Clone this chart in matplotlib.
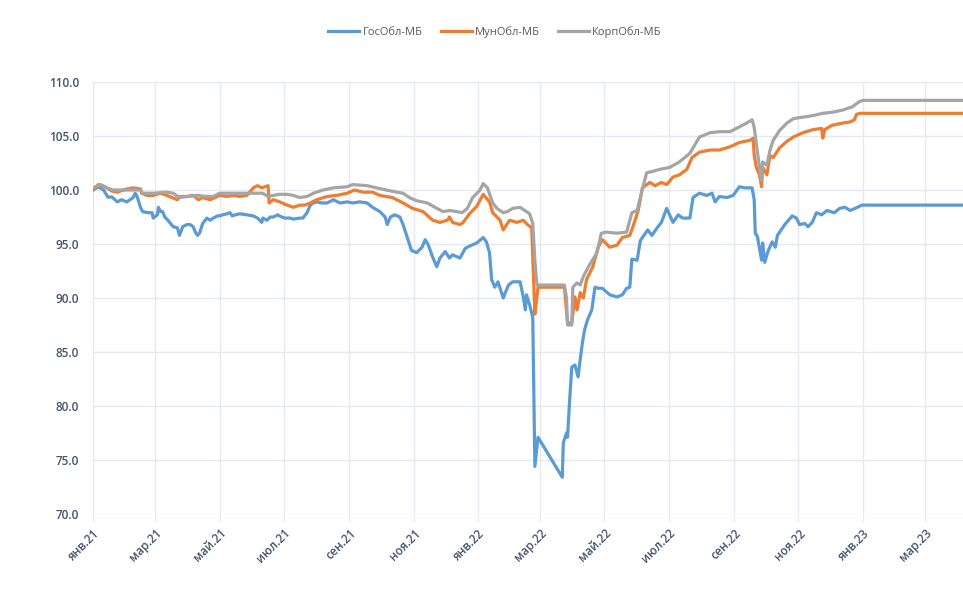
import pandas as pd
import matplotlib
matplotlib.use('Agg')
import matplotlib.pyplot as plt

## index series, values (day = days since 2021-01-01)
start = pd.Timestamp('2021-01-01')

gos_days = [0, 5, 10, 14, 18, 23, 27, 32, 35, 38, 40, 42, 45, 47, 52, 56, 57, 61, 62, 64,
            66, 68, 71, 76, 80, 82, 84, 85, 89, 92, 95, 97, 99, 101, 104, 108, 111, 114, 118, 120,
            123, 127, 130, 132, 135, 139, 146, 152, 156, 160, 161, 165, 168, 171, 175, 179, 182, 187, 190, 196,
            199, 203, 206, 209, 212, 217, 222, 228, 234, 241, 246, 253, 260, 265, 272, 277, 279, 282, 286, 291,
            294, 298, 302, 307, 312, 315, 318, 322, 326, 329, 334, 338, 341, 348, 353, 357, 364, 370, 373, 376,
            378, 381, 384, 389, 391, 394, 398, 405, 408, 410, 411, 414, 417, 419, 422, 445, 446, 449, 450, 452,
            454, 457, 460, 462, 464, 466, 469, 473, 476, 479, 483, 490, 497, 502, 506, 509, 511, 516, 519, 521,
            526, 530, 535, 539, 544, 550, 555, 559, 566, 569, 575, 582, 587, 590, 594, 601, 607, 613, 618, 625,
            627, 628, 630, 634, 635, 637, 640, 644, 647, 649, 656, 663, 667, 670, 675, 678, 682, 686, 691, 696,
            703, 708, 713, 718, 725, 729, 825]
gos_vals = [100.0, 100.3, 100.0, 99.35, 99.35, 98.9, 99.1, 98.9, 99.1, 99.3, 99.7, 99.35, 98.4, 98.0, 97.9, 97.9, 97.4, 97.7, 98.4, 98.0,
            98.0, 97.5, 97.2, 96.6, 96.5, 95.8, 96.3, 96.6, 96.8, 96.8, 96.6, 96.1, 95.8, 96.0, 96.9, 97.4, 97.2, 97.4, 97.6, 97.6,
            97.7, 97.8, 97.9, 97.6, 97.7, 97.8, 97.7, 97.6, 97.4, 97.0, 97.4, 97.2, 97.5, 97.5, 97.7, 97.5, 97.4, 97.4, 97.3, 97.4,
            97.4, 97.9, 98.6, 98.8, 98.9, 98.8, 98.8, 99.1, 98.8, 98.9, 98.8, 98.9, 98.8, 98.4, 98.0, 97.5, 96.8, 97.5, 97.7, 97.5,
            96.8, 95.6, 94.4, 94.2, 94.7, 95.4, 94.9, 93.8, 92.9, 93.7, 94.3, 93.7, 94.0, 93.7, 94.6, 94.8, 95.1, 95.6, 95.2, 94.2,
            91.7, 91.0, 91.5, 90.0, 90.5, 91.2, 91.5, 91.5, 90.1, 88.9, 90.3, 89.4, 88.2, 74.4, 77.1, 73.4, 76.6, 77.5, 77.1, 80.6,
            83.6, 83.8, 82.7, 84.3, 85.8, 87.0, 88.0, 88.9, 91.0, 90.9, 90.9, 90.3, 90.1, 90.3, 90.9, 91.0, 93.6, 93.5, 95.3, 95.6,
            96.3, 95.8, 96.5, 97.0, 98.3, 97.0, 97.7, 97.4, 97.4, 99.3, 99.7, 99.5, 99.7, 98.9, 99.4, 99.3, 99.5, 100.3, 100.2, 100.2,
            99.1, 96.0, 95.7, 93.5, 95.1, 93.3, 94.3, 95.2, 94.7, 95.8, 96.8, 97.6, 97.4, 96.8, 96.9, 96.6, 97.0, 97.9, 97.7, 98.1,
            97.9, 98.3, 98.4, 98.1, 98.4, 98.6, 98.6]

mun_days = [0, 5, 9, 13, 18, 23, 32, 38, 45, 46, 51, 57, 64, 70, 75, 80, 82, 89, 95, 100,
            104, 111, 118, 120, 127, 133, 139, 146, 152, 156, 160, 163, 166, 167, 171, 177, 184, 190, 196, 201,
            206, 212, 222, 231, 241, 248, 256, 265, 272, 284, 294, 303, 313, 322, 329, 336, 338, 341, 348, 351,
            357, 364, 370, 376, 379, 386, 389, 395, 402, 408, 412, 416, 419, 421, 422, 447, 450, 454, 457, 459,
            462, 465, 468, 474, 479, 483, 490, 497, 502, 509, 512, 517, 521, 528, 533, 539, 544, 550, 556, 563,
            568, 575, 585, 594, 604, 613, 623, 626, 627, 629, 632, 634, 635, 639, 642, 645, 651, 658, 664, 673,
            683, 691, 692, 694, 701, 711, 718, 722, 724, 727, 825]
mun_vals = [100.0, 100.5, 100.4, 100.2, 99.9, 99.8, 100.1, 100.2, 100.1, 99.7, 99.5, 99.5, 99.7, 99.5, 99.3, 99.1, 99.4, 99.4, 99.5, 99.1,
            99.3, 99.1, 99.4, 99.5, 99.4, 99.5, 99.4, 99.5, 100.2, 100.4, 100.2, 100.3, 100.4, 98.8, 99.1, 98.9, 98.6, 98.4, 98.6, 98.6,
            98.8, 99.1, 99.4, 99.5, 99.7, 100.0, 99.8, 99.8, 99.5, 99.3, 98.8, 98.3, 98.0, 97.2, 97.0, 97.2, 97.5, 97.0, 96.8, 97.0,
            97.8, 98.5, 99.6, 98.9, 97.9, 97.2, 96.3, 97.2, 97.0, 97.2, 96.8, 96.5, 88.5, 90.1, 91.0, 91.0, 87.7, 87.7, 90.1, 88.9,
            90.5, 90.0, 91.7, 92.9, 94.7, 95.4, 94.7, 94.9, 95.6, 95.8, 96.6, 98.1, 100.2, 100.7, 100.4, 100.7, 100.5, 101.2, 101.4, 101.9,
            103.0, 103.5, 103.7, 103.7, 104.0, 104.4, 104.6, 104.8, 103.2, 102.1, 101.4, 100.3, 102.1, 101.4, 103.2, 103.0, 103.9, 104.5, 104.9, 105.3,
            105.6, 105.7, 104.8, 105.6, 106.0, 106.2, 106.3, 106.5, 107.0, 107.1, 107.1]

korp_days = [0, 7, 13, 19, 32, 45, 47, 57, 70, 76, 82, 89, 99, 108, 114, 120, 127, 139, 152, 161,
             166, 171, 177, 184, 190, 196, 203, 209, 218, 228, 241, 246, 260, 269, 278, 288, 294, 300, 307, 317,
             326, 332, 338, 345, 350, 355, 360, 367, 370, 374, 379, 383, 389, 393, 398, 405, 411, 414, 417, 419,
             421, 447, 449, 450, 454, 455, 459, 462, 465, 471, 478, 482, 487, 497, 506, 511, 516, 520, 525, 530,
             537, 547, 556, 566, 575, 585, 594, 604, 610, 620, 625, 627, 629, 632, 634, 635, 639, 642, 645, 651,
             658, 664, 670, 677, 683, 692, 701, 711, 720, 727, 730, 825]
korp_vals = [100.2, 100.5, 100.2, 100.0, 100.0, 100.0, 99.7, 99.7, 99.8, 99.7, 99.3, 99.4, 99.5, 99.4, 99.4, 99.7, 99.7, 99.7, 99.7, 99.7,
             99.4, 99.5, 99.6, 99.6, 99.5, 99.3, 99.4, 99.7, 100.0, 100.2, 100.3, 100.5, 100.4, 100.2, 100.0, 99.8, 99.7, 99.3, 99.0, 98.8,
             98.3, 98.0, 98.1, 98.0, 97.9, 98.3, 99.3, 100.0, 100.6, 100.2, 98.8, 98.3, 97.9, 98.0, 98.3, 98.4, 98.0, 97.8, 96.9, 93.5,
             91.2, 91.2, 90.0, 87.5, 87.5, 91.0, 91.4, 91.2, 92.0, 93.1, 94.2, 96.0, 96.1, 96.0, 96.1, 97.9, 98.1, 99.7, 101.6, 101.7,
             101.9, 102.1, 102.6, 103.4, 104.9, 105.3, 105.4, 105.4, 105.7, 106.2, 106.5, 105.8, 104.3, 102.1, 100.9, 102.6, 102.3, 103.7, 104.6, 105.5,
             106.2, 106.6, 106.7, 106.8, 106.9, 107.1, 107.2, 107.4, 107.7, 108.2, 108.3, 108.3]

series_names = ['ГосОбл-МБ', 'МунОбл-МБ', 'КорпОбл-МБ']
series_colors = ['#5b9bd5', '#ed7d31', '#a5a5a5']
tick_dates = pd.date_range('2021-01-01', '2023-03-01', freq='2MS')
tick_labels = ['янв.21', 'мар.21', 'май.21', 'июл.21', 'сен.21', 'ноя.21', 'янв.22',
               'мар.22', 'май.22', 'июл.22', 'сен.22', 'ноя.22', 'янв.23', 'мар.23']

plt.rcParams['font.family'] = ['Open Sans', 'DejaVu Sans']

fig = plt.figure(figsize=(9.63, 5.96), dpi=100)
ax = fig.add_axes([0.0966, 0.1376, 0.9034, 0.7248])

data = [(gos_days, gos_vals), (mun_days, mun_vals), (korp_days, korp_vals)]
for (days, vals), name, color in zip(data, series_names, series_colors):
    dates = start + pd.to_timedelta(days, unit='D')
    ax.plot(dates, vals, color=color, linewidth=2.3, label=name, solid_joinstyle='round')

grid_color = '#e6e9f0'
ax.set_ylim(70, 110)
ax.set_yticks(range(70, 111, 5))
ax.set_yticklabels(['%.1f' % v for v in range(70, 111, 5)])
ax.set_xlim(start, start + pd.Timedelta(days=825))
ax.set_xticks(tick_dates)
ax.set_xticklabels(tick_labels, rotation=45, ha='right', rotation_mode='anchor')
ax.grid(True, color=grid_color, linewidth=1)
ax.set_axisbelow(True)
for s in ax.spines.values():
    s.set_visible(False)
ax.tick_params(axis='y', length=0, pad=10, labelsize=8.5, labelcolor='#44546a')
ax.tick_params(axis='x', length=5, color=grid_color, pad=4, labelsize=8.5, labelcolor='#44546a')
for lbl in ax.get_xticklabels() + ax.get_yticklabels():
    lbl.set_fontweight('semibold')

fig.legend(loc='center', bbox_to_anchor=(0.514, 0.946), ncol=3, frameon=False,
           fontsize=8, handlelength=2.8, columnspacing=1.6, handletextpad=0.3,
           labelcolor='#595959')

fig.savefig('out.png', dpi=100)
